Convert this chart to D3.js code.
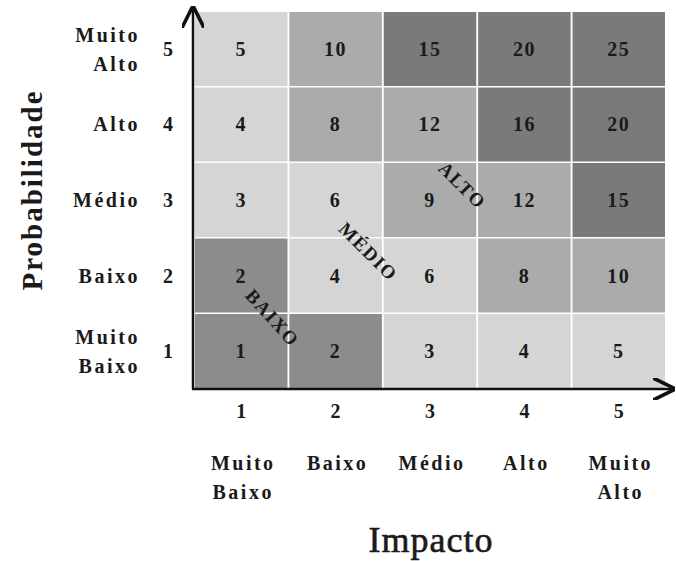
<!DOCTYPE html>
<html>
<head>
<meta charset="utf-8">
<script src="https://cdn.jsdelivr.net/npm/d3@7"></script>
<style>
  body { margin: 0; background: #fff; }
  text { font-family: "Liberation Serif", "DejaVu Serif", serif; fill: #1a1a1a; }
</style>
</head>
<body>
<svg id="chart" width="676" height="561"></svg>
<script>
// niveis do eixo x (impacto) e do eixo y (probabilidade)
var impacto = [1, 2, 3, 4, 5];
var probabilidade = [5, 4, 3, 2, 1];
var impactoLabels = [['Muito', 'Baixo'], ['Baixo'], ['Médio'], ['Alto'], ['Muito', 'Alto']];
var probLabels = [['Muito', 'Alto'], ['Alto'], ['Médio'], ['Baixo'], ['Muito', 'Baixo']];

var matriz = [
  [5, 10, 15, 20, 25],
  [4, 8, 12, 16, 20],
  [3, 6, 9, 12, 15],
  [2, 4, 6, 8, 10],
  [1, 2, 3, 4, 5]
];

// faixas de risco e rotulos das diagonais
var faixas = [2, 6, 12];
var faixaCores = ['#8c8c8c', '#d5d5d5', '#ababab', '#7a7a7a'];
var diagonais = [
  { txt: 'BAIXO', x: 1.32, y: 1.43, ang: 48 },
  { txt: 'MÉDIO', x: 2.34, y: 2.31, ang: 45 },
  { txt: 'ALTO', x: 3.34, y: 3.19, ang: 45 }
];

var svg = d3.select('#chart');

var x = d3.scaleBand().domain(impacto).range([195, 665]).paddingInner(0.02);
var y = d3.scaleBand().domain(probabilidade).range([12, 388]).paddingInner(0.02);
var xl = d3.scaleLinear().domain([0.5, 5.5]).range([195, 665]);
var yl = d3.scaleLinear().domain([0.5, 5.5]).range([388, 12]);
var cor = d3.scaleThreshold().domain(faixas.map(function(d){ return d + 0.5; })).range(faixaCores);

var cells = [];
matriz.forEach(function(linha, i){
  linha.forEach(function(v, j){
    cells.push({ p: probabilidade[i], i: impacto[j], v: v });
  });
});

svg.append('g').selectAll('rect').data(cells).enter()
  .append('rect')
  .attr('x', function(d){ return x(d.i); })
  .attr('y', function(d){ return y(d.p); })
  .attr('width', x.bandwidth())
  .attr('height', y.bandwidth())
  .attr('fill', function(d){ return cor(d.v); });

svg.append('g').selectAll('text').data(cells).enter()
  .append('text')
  .attr('x', function(d){ return x(d.i) + x.bandwidth() / 2; })
  .attr('y', function(d){ return y(d.p) + y.bandwidth() / 2 + 7; })
  .attr('text-anchor', 'middle')
  .attr('font-size', 20)
  .attr('font-weight', 'bold')
  .attr('letter-spacing', 1.5)
  .text(function(d){ return d.v; });

// rotulos diagonais das faixas
svg.append('g').selectAll('text').data(diagonais).enter()
  .append('text')
  .attr('transform', function(d){ return 'translate(' + xl(d.x) + ',' + yl(d.y) + ') rotate(' + d.ang + ')'; })
  .attr('text-anchor', 'middle')
  .attr('dy', 6)
  .attr('font-size', 19)
  .attr('font-weight', 'bold')
  .attr('letter-spacing', 1.5)
  .text(function(d){ return d.txt; });

// eixos com setas
svg.append('defs').append('marker')
  .attr('id', 'seta')
  .attr('viewBox', '0 0 10 10')
  .attr('refX', 9).attr('refY', 5)
  .attr('markerWidth', 9).attr('markerHeight', 9)
  .attr('orient', 'auto')
  .append('path')
  .attr('d', 'M0,0 L10,5 L0,10')
  .attr('fill', 'none')
  .attr('stroke', '#111')
  .attr('stroke-width', 1.6);

svg.append('line')
  .attr('x1', 193).attr('y1', 389).attr('x2', 193).attr('y2', 8)
  .attr('stroke', '#111').attr('stroke-width', 2.5)
  .attr('marker-end', 'url(#seta)');
svg.append('line')
  .attr('x1', 192).attr('y1', 389).attr('x2', 673).attr('y2', 389)
  .attr('stroke', '#111').attr('stroke-width', 2.5)
  .attr('marker-end', 'url(#seta)');

// eixo y: numeros e nomes
var gy = svg.append('g');
probabilidade.forEach(function(p, k){
  var cy = y(p) + y.bandwidth() / 2;
  gy.append('text')
    .attr('x', 168).attr('y', cy + 7)
    .attr('text-anchor', 'middle')
    .attr('font-size', 20).attr('font-weight', 'bold')
    .text(p);
  var linhas = probLabels[k];
  linhas.forEach(function(t, n){
    var off = linhas.length === 1 ? 7 : (n === 0 ? -7 : 22);
    gy.append('text')
      .attr('x', 140).attr('y', cy + off)
      .attr('text-anchor', 'end')
      .attr('font-size', 20).attr('font-weight', 'bold')
      .attr('letter-spacing', 2.5)
      .text(t);
  });
});

// eixo x: numeros e nomes
var gx = svg.append('g');
impacto.forEach(function(i, k){
  var cx = x(i) + x.bandwidth() / 2;
  gx.append('text')
    .attr('x', cx).attr('y', 418)
    .attr('text-anchor', 'middle')
    .attr('font-size', 20).attr('font-weight', 'bold')
    .text(i);
  impactoLabels[k].forEach(function(t, n){
    gx.append('text')
      .attr('x', cx + 2).attr('y', 470 + n * 29)
      .attr('text-anchor', 'middle')
      .attr('font-size', 20).attr('font-weight', 'bold')
      .attr('letter-spacing', 2.5)
      .text(t);
  });
});

// titulos dos eixos
svg.append('text')
  .attr('transform', 'translate(42,190) rotate(-90)')
  .attr('text-anchor', 'middle')
  .attr('font-size', 29).attr('font-weight', 'bold')
  .attr('letter-spacing', 2)
  .text('Probabilidade');

svg.append('text')
  .attr('x', 431).attr('y', 552)
  .attr('text-anchor', 'middle')
  .attr('font-size', 36)
  .attr('letter-spacing', 1)
  .attr('stroke', '#1a1a1a').attr('stroke-width', 0.6)
  .text('Impacto');
</script>
</body>
</html>
